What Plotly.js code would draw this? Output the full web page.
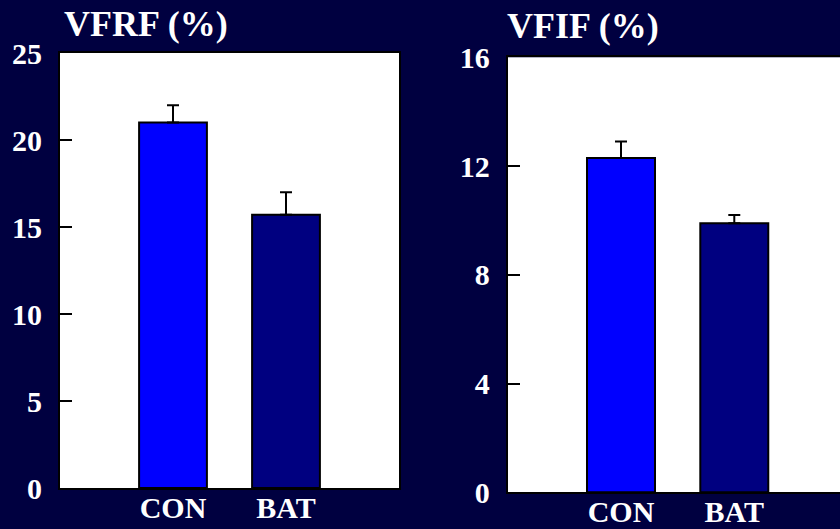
<!DOCTYPE html>
<html>
<head>
<meta charset="utf-8">
<script src="https://cdn.plot.ly/plotly-3.0.1.min.js"></script>
<style>html,body{margin:0;padding:0;background:#000040;}#chart{width:840px;height:529px;}</style>
</head>
<body>
<div id="chart"></div>
<script>
// Data
const categories = ['CON', 'BAT'];
const vfrfValues = [21.0, 15.7];
const vfrfErrors = [1.0, 1.3];
const vfifValues = [12.3, 9.9];
const vfifErrors = [0.6, 0.3];
const barColors = ['#0000FF', '#000080'];
const vfrfTicks = [0, 5, 10, 15, 20, 25];
const vfifTicks = [0, 4, 8, 12, 16];

const serif = 'Liberation Serif';
const tickFont = {family: serif, size: 30, color: '#ffffff', weight: 'bold'};

function barTrace(vals, errs, xa, ya) {
  return {
    type: 'bar', x: categories, y: vals, xaxis: xa, yaxis: ya,
    width: 0.6,
    marker: {color: barColors, line: {color: '#000000', width: 2}},
    error_y: {type: 'data', array: errs, arrayminus: [0, 0], symmetric: false,
              color: '#000000', thickness: 2, width: 6},
    hoverinfo: 'skip', showlegend: false
  };
}

const W = 840, H = 529;
const fx = p => p / W;
const fy = p => (H - p) / H;

const xCommon = {
  type: 'category', showline: true, linecolor: '#000000', linewidth: 2,
  mirror: true, ticks: '', showgrid: false, zeroline: false,
  tickfont: tickFont, fixedrange: true, ticklabelstandoff: -8
};
const yCommon = {
  showline: true, linecolor: '#000000', linewidth: 2, mirror: true,
  ticks: 'inside', ticklen: 12, tickwidth: 2, tickcolor: '#000000',
  showgrid: false, zeroline: false, tickfont: tickFont, fixedrange: true,
  ticklabelstandoff: 10
};

const layout = {
  width: W, height: H,
  margin: {l: 0, r: 0, t: 0, b: 0},
  paper_bgcolor: '#000040', plot_bgcolor: '#ffffff',
  xaxis: Object.assign({}, xCommon, {domain: [fx(60), fx(399)], range: [-1, 2], anchor: 'y'}),
  yaxis: Object.assign({}, yCommon, {domain: [fy(488), fy(53)], range: [0, 25], tickvals: vfrfTicks, anchor: 'x'}),
  xaxis2: Object.assign({}, xCommon, {domain: [fx(507.7), 1], range: [-1, 1.933], anchor: 'y2'}),
  yaxis2: Object.assign({}, yCommon, {domain: [fy(492.3), fy(57.3)], range: [0, 16], tickvals: vfifTicks, anchor: 'x2', mirror: false}),
  annotations: [
    {text: 'VFRF (%)', xref: 'paper', yref: 'paper', x: fx(62), y: fy(2), xanchor: 'left', yanchor: 'top',
     showarrow: false, font: {family: serif, size: 36, color: '#ffffff', weight: 'bold'}},
    {text: 'VFIF (%)', xref: 'paper', yref: 'paper', x: fx(505), y: fy(4), xanchor: 'left', yanchor: 'top',
     showarrow: false, font: {family: serif, size: 36, color: '#ffffff', weight: 'bold'}}
  ]
};

Plotly.newPlot('chart', [
  barTrace(vfrfValues, vfrfErrors, 'x', 'y'),
  barTrace(vfifValues, vfifErrors, 'x2', 'y2')
], layout, {displayModeBar: false, staticPlot: true});
</script>
</body>
</html>
